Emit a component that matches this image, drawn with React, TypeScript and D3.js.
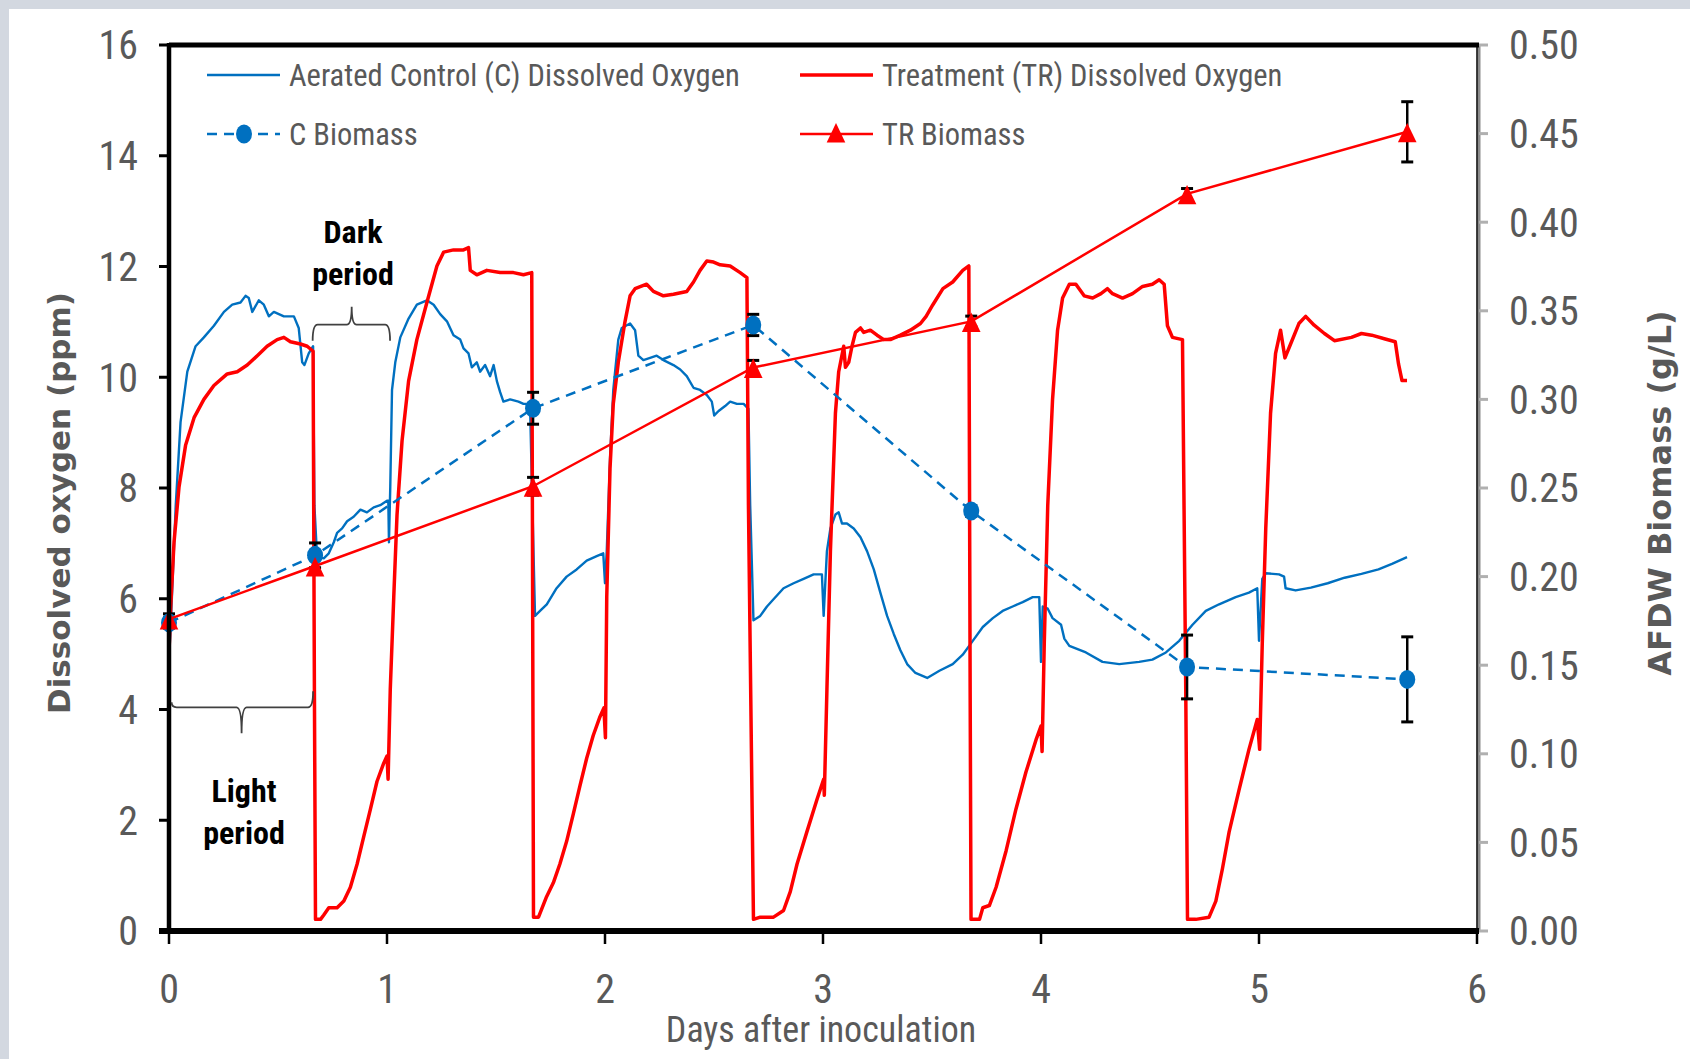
import React from "react";
import * as d3 from "d3";

const W = 1690;
const H = 1059;
const LEFT = 169;
const RIGHT = 1477;
const TOP = 45;
const BOTTOM = 931;

const BLUE = "#0070C0";
const RED = "#FF0000";
const GREY = "#595959";
const NARROW = "'Liberation Sans Narrow', 'Roboto Condensed', 'DejaVu Sans Condensed', 'Liberation Sans', sans-serif";

// aerated control dissolved oxygen, [day, ppm]
const controlDO: [number, number][] = [
  [0.0, 4.9], [0.008, 5.53], [0.031, 7.69], [0.053, 9.19], [0.084, 10.1], [0.122, 10.56], [0.16, 10.72],
  [0.206, 10.93], [0.252, 11.18], [0.29, 11.31], [0.328, 11.35], [0.351, 11.47], [0.366, 11.43], [0.382, 11.18],
  [0.412, 11.39], [0.435, 11.31], [0.458, 11.1], [0.481, 11.18], [0.527, 11.1], [0.573, 11.1], [0.595, 10.89],
  [0.611, 10.27], [0.621, 10.22], [0.641, 10.43], [0.661, 10.56], [0.667, 7.69], [0.679, 6.77], [0.71, 6.73],
  [0.733, 6.82], [0.756, 7.02], [0.771, 7.19], [0.794, 7.27], [0.817, 7.4], [0.847, 7.48], [0.878, 7.61],
  [0.908, 7.56], [0.939, 7.65], [0.969, 7.69], [1.0, 7.77], [1.006, 7.77], [1.009, 7.02], [1.015, 8.02],
  [1.023, 9.77], [1.038, 10.27], [1.061, 10.72], [1.099, 11.06], [1.137, 11.31], [1.183, 11.39], [1.214, 11.31],
  [1.244, 11.14], [1.275, 11.01], [1.305, 10.76], [1.336, 10.68], [1.351, 10.52], [1.374, 10.43], [1.389, 10.18],
  [1.412, 10.27], [1.427, 10.1], [1.45, 10.22], [1.473, 10.02], [1.489, 10.22], [1.504, 9.93], [1.519, 9.73],
  [1.534, 9.56], [1.565, 9.6], [1.603, 9.56], [1.626, 9.52], [1.656, 9.52], [1.667, 7.69], [1.679, 5.69],
  [1.702, 5.78], [1.733, 5.9], [1.778, 6.19], [1.824, 6.4], [1.87, 6.53], [1.916, 6.69], [1.962, 6.77],
  [1.992, 6.82], [2.0, 6.28], [2.008, 6.86], [2.023, 8.52], [2.038, 9.77], [2.061, 10.68], [2.077, 10.89],
  [2.115, 10.97], [2.138, 10.85], [2.153, 10.39], [2.176, 10.31], [2.207, 10.35], [2.237, 10.39], [2.268, 10.31],
  [2.314, 10.22], [2.345, 10.14], [2.375, 10.02], [2.406, 9.81], [2.436, 9.77], [2.467, 9.68], [2.49, 9.56],
  [2.501, 9.31], [2.521, 9.39], [2.551, 9.48], [2.574, 9.56], [2.605, 9.52], [2.636, 9.52], [2.658, 9.43],
  [2.666, 7.69], [2.681, 5.61], [2.712, 5.69], [2.743, 5.86], [2.773, 5.99], [2.819, 6.19], [2.865, 6.28],
  [2.911, 6.36], [2.957, 6.44], [2.995, 6.44], [3.003, 5.69], [3.018, 6.86], [3.034, 7.27], [3.057, 7.52],
  [3.072, 7.56], [3.087, 7.36], [3.11, 7.36], [3.141, 7.27], [3.172, 7.11], [3.202, 6.86], [3.233, 6.53],
  [3.263, 6.11], [3.294, 5.69], [3.325, 5.36], [3.355, 5.07], [3.386, 4.82], [3.424, 4.66], [3.478, 4.57],
  [3.534, 4.7], [3.595, 4.82], [3.641, 4.99], [3.687, 5.24], [3.733, 5.49], [3.779, 5.65], [3.824, 5.78],
  [3.87, 5.86], [3.916, 5.94], [3.962, 6.03], [3.992, 6.03], [4.0, 4.86], [4.008, 5.86], [4.031, 5.82],
  [4.053, 5.65], [4.092, 5.53], [4.107, 5.28], [4.13, 5.15], [4.206, 5.03], [4.282, 4.86], [4.359, 4.82],
  [4.45, 4.86], [4.511, 4.9], [4.573, 5.03], [4.634, 5.24], [4.695, 5.53], [4.756, 5.78], [4.817, 5.9],
  [4.893, 6.03], [4.954, 6.11], [4.992, 6.19], [5.0, 5.24], [5.015, 6.36], [5.031, 6.46], [5.092, 6.44],
  [5.115, 6.4], [5.122, 6.19], [5.168, 6.15], [5.238, 6.2], [5.315, 6.28], [5.393, 6.38], [5.47, 6.45],
  [5.548, 6.53], [5.61, 6.63], [5.679, 6.75],
];

// treatment dissolved oxygen, [day, ppm]
const treatmentDO: [number, number][] = [
  [0.0, 5.03], [0.008, 5.86], [0.023, 7.02], [0.046, 8.02], [0.076, 8.77], [0.115, 9.27], [0.16, 9.6],
  [0.206, 9.85], [0.267, 10.06], [0.313, 10.1], [0.359, 10.22], [0.405, 10.39], [0.45, 10.56], [0.496, 10.68],
  [0.527, 10.72], [0.557, 10.64], [0.603, 10.6], [0.634, 10.56], [0.661, 10.47], [0.667, 4.36], [0.672, 0.21],
  [0.695, 0.21], [0.71, 0.29], [0.733, 0.42], [0.771, 0.42], [0.802, 0.54], [0.832, 0.79], [0.863, 1.21],
  [0.893, 1.7], [0.924, 2.2], [0.954, 2.7], [0.985, 3.03], [1.0, 3.16], [1.005, 2.74], [1.015, 4.36],
  [1.031, 6.03], [1.046, 7.52], [1.069, 8.85], [1.099, 9.93], [1.137, 10.68], [1.183, 11.35], [1.229, 12.01],
  [1.26, 12.26], [1.305, 12.3], [1.351, 12.3], [1.374, 12.34], [1.382, 11.93], [1.412, 11.85], [1.458, 11.93],
  [1.519, 11.89], [1.58, 11.89], [1.626, 11.85], [1.664, 11.89], [1.672, 0.25], [1.695, 0.25], [1.732, 0.62],
  [1.763, 0.87], [1.793, 1.21], [1.824, 1.62], [1.855, 2.12], [1.885, 2.62], [1.916, 3.12], [1.946, 3.53],
  [1.977, 3.87], [1.995, 4.03], [2.002, 3.49], [2.008, 6.03], [2.023, 8.35], [2.038, 9.52], [2.061, 10.27],
  [2.092, 11.01], [2.115, 11.47], [2.138, 11.6], [2.191, 11.68], [2.222, 11.55], [2.268, 11.47], [2.314, 11.5],
  [2.375, 11.55], [2.406, 11.72], [2.436, 11.93], [2.467, 12.1], [2.498, 12.08], [2.528, 12.03], [2.574, 12.01],
  [2.62, 11.89], [2.651, 11.8], [2.658, 7.69], [2.681, 0.21], [2.712, 0.25], [2.773, 0.25], [2.819, 0.37],
  [2.85, 0.71], [2.881, 1.21], [2.926, 1.79], [2.972, 2.37], [3.003, 2.74], [3.006, 2.45], [3.018, 4.36],
  [3.034, 6.86], [3.057, 9.35], [3.072, 10.1], [3.095, 10.56], [3.103, 10.18], [3.118, 10.27], [3.133, 10.56],
  [3.149, 10.81], [3.172, 10.89], [3.187, 10.81], [3.217, 10.85], [3.248, 10.76], [3.279, 10.68], [3.309, 10.68],
  [3.355, 10.76], [3.401, 10.85], [3.447, 10.97], [3.473, 11.1], [3.504, 11.31], [3.55, 11.6], [3.595, 11.72],
  [3.641, 11.93], [3.669, 12.01], [3.675, 4.36], [3.679, 0.21], [3.718, 0.21], [3.733, 0.42], [3.763, 0.46],
  [3.794, 0.79], [3.84, 1.45], [3.885, 2.2], [3.931, 2.87], [3.977, 3.45], [4.0, 3.7], [4.005, 3.24],
  [4.015, 5.2], [4.031, 7.69], [4.053, 9.6], [4.076, 10.85], [4.099, 11.43], [4.13, 11.68], [4.16, 11.68],
  [4.198, 11.47], [4.237, 11.43], [4.275, 11.51], [4.305, 11.6], [4.328, 11.51], [4.374, 11.43], [4.42, 11.51],
  [4.466, 11.64], [4.511, 11.68], [4.542, 11.76], [4.565, 11.68], [4.58, 10.93], [4.603, 10.72], [4.649, 10.68],
  [4.664, 4.36], [4.672, 0.21], [4.71, 0.21], [4.771, 0.25], [4.802, 0.54], [4.832, 1.12], [4.863, 1.79],
  [4.908, 2.54], [4.954, 3.28], [4.992, 3.82], [5.003, 3.28], [5.015, 5.2], [5.031, 7.27], [5.053, 9.35],
  [5.076, 10.43], [5.099, 10.85], [5.119, 10.35], [5.145, 10.6], [5.183, 10.97], [5.214, 11.1], [5.253, 10.94],
  [5.3, 10.79], [5.346, 10.66], [5.424, 10.72], [5.47, 10.79], [5.517, 10.76], [5.579, 10.69], [5.625, 10.64],
  [5.64, 10.24], [5.656, 9.94], [5.679, 9.94],
];

// biomass sampling (AFDW, g/L)
const biomassDays = [0, 0.67, 1.67, 2.68, 3.68, 4.67, 5.68];
const cBiomass = [0.174, 0.212, 0.295, 0.342, 0.237, 0.149, 0.142];
const cBiomassErr = [0.003, 0.007, 0.009, 0.006, 0.003, 0.018, 0.024];
const trBiomass = [0.176, 0.206, 0.251, 0.318, 0.344, 0.416, 0.451];
const trBiomassErr = [0.003, 0.004, 0.005, 0.004, 0.003, 0.003, 0.017];

const dayTicks = [0, 1, 2, 3, 4, 5, 6];
const doTicks = [0, 2, 4, 6, 8, 10, 12, 14, 16];
const biomassTicks = [0, 0.05, 0.1, 0.15, 0.2, 0.25, 0.3, 0.35, 0.4, 0.45, 0.5];

// period brackets: [start day, end day, ppm level, notch day]
const darkBracket = [0.659, 1.014, 10.95, 0.838];
const lightBracket = [0.012, 0.661, 4.04, 0.333];

const x = d3.scaleLinear().domain([0, 6]).range([LEFT, RIGHT]);
const yDO = d3.scaleLinear().domain([0, 16]).range([BOTTOM, TOP]);
const yBio = d3.scaleLinear().domain([0, 0.5]).range([BOTTOM, TOP]);

const doLine = d3.line<[number, number]>().x((d) => x(d[0])).y((d) => yDO(d[1]));
const bioLine = d3.line<number>().x((_, i) => x(biomassDays[i])).y((d) => yBio(d));
const triangle = d3.symbol(d3.symbolTriangle, 150)()!;
const fmt2 = d3.format(".2f");

// curly bracket, dir = 1 opens downward (ends point down), -1 opens upward
const bracket = (b: number[], dir: number, endL: number, endR: number, notch: number) => {
  const x0 = x(b[0]);
  const x1 = x(b[1]);
  const xc = x(b[3]);
  const y0 = yDO(b[2]);
  const p = d3.path();
  p.moveTo(x0, y0 + dir * endL);
  p.quadraticCurveTo(x0, y0, x0 + 5, y0);
  p.lineTo(xc - 5, y0);
  p.quadraticCurveTo(xc, y0, xc, y0 - dir * notch);
  p.quadraticCurveTo(xc, y0, xc + 5, y0);
  p.lineTo(x1 - 5, y0);
  p.quadraticCurveTo(x1, y0, x1, y0 + dir * endR);
  return p.toString();
};

const ErrorBars = ({ vals, errs }: { vals: number[]; errs: number[] }) => (
  <g stroke="#000" strokeWidth={2.5}>
    {vals.map((v, i) => {
      const cx = x(biomassDays[i]);
      const y1 = yBio(v + errs[i]);
      const y2 = yBio(v - errs[i]);
      return (
        <g key={i}>
          <line x1={cx} x2={cx} y1={y1} y2={y2} />
          <line x1={cx - 6} x2={cx + 6} y1={y1} y2={y1} strokeWidth={3} />
          <line x1={cx - 6} x2={cx + 6} y1={y2} y2={y2} strokeWidth={3} />
        </g>
      );
    })}
  </g>
);

export default function App() {
  return (
    <svg width={W} height={H} style={{ position: "absolute", left: 0, top: 0 }}>
      <rect width={W} height={H} fill="#d3d8e0" />
      <rect x={9} y={9} width={W - 9} height={H - 9} fill="#fff" />

      {/* right axis (biomass) */}
      <line x1={RIGHT + 2} x2={RIGHT + 2} y1={TOP} y2={BOTTOM} stroke="#8c8c8c" strokeWidth={3} />
      {biomassTicks.map((t) => (
        <g key={t}>
          <line x1={RIGHT + 2} x2={RIGHT + 11} y1={yBio(t)} y2={yBio(t)} stroke="#b0b0b0" strokeWidth={3} />
          <text x={1509} y={yBio(t)} dy="0.36em" fontFamily={NARROW} fontSize={40} fill={GREY}>
            {fmt2(t)}
          </text>
        </g>
      ))}
      <line x1={RIGHT} x2={RIGHT} y1={TOP} y2={BOTTOM} stroke="#000" strokeWidth={1.5} />
      <line x1={LEFT} x2={RIGHT + 2} y1={TOP} y2={TOP} stroke="#000" strokeWidth={5} />

      {/* left axis */}
      {doTicks.map((t) => (
        <g key={t}>
          <line x1={LEFT - 10} x2={LEFT} y1={yDO(t)} y2={yDO(t)} stroke="#000" strokeWidth={3} />
          <text x={138} y={yDO(t)} dy="0.36em" textAnchor="end" fontFamily={NARROW} fontSize={40} fill={GREY}>
            {t}
          </text>
        </g>
      ))}

      {/* bottom axis */}
      {dayTicks.map((t) => (
        <g key={t}>
          <line x1={x(t)} x2={x(t)} y1={BOTTOM} y2={BOTTOM + 13} stroke="#000" strokeWidth={2.5} />
          <text x={x(t)} y={1003} textAnchor="middle" fontFamily={NARROW} fontSize={40} fill={GREY}>
            {t}
          </text>
        </g>
      ))}

      {/* dissolved oxygen traces */}
      <path d={doLine(controlDO)!} fill="none" stroke={BLUE} strokeWidth={2.4} strokeLinejoin="round" />
      <path d={doLine(treatmentDO)!} fill="none" stroke={RED} strokeWidth={3.5} strokeLinejoin="round" />

      {/* biomass */}
      <ErrorBars vals={cBiomass} errs={cBiomassErr} />
      <ErrorBars vals={trBiomass} errs={trBiomassErr} />
      <path d={bioLine(cBiomass)!} fill="none" stroke={BLUE} strokeWidth={2.5} strokeDasharray="10 7" />
      {cBiomass.map((v, i) => (
        <ellipse key={i} cx={x(biomassDays[i])} cy={yBio(v)} rx={8} ry={9.5} fill={BLUE} />
      ))}
      <path d={bioLine(trBiomass)!} fill="none" stroke={RED} strokeWidth={2.5} />
      {trBiomass.map((v, i) => (
        <path key={i} d={triangle} fill={RED}
          transform={`translate(${x(biomassDays[i])},${yBio(v) + 4}) scale(1,1.2)`} />
      ))}

      <line x1={LEFT} x2={LEFT} y1={TOP - 2} y2={BOTTOM + 2} stroke="#000" strokeWidth={4.5} />
      <line x1={LEFT - 10} x2={RIGHT + 2} y1={BOTTOM} y2={BOTTOM} stroke="#000" strokeWidth={6} />

      {/* period annotations */}
      <path d={bracket(darkBracket, 1, 16, 16, 18)} fill="none" stroke="#404040" strokeWidth={1.8} />
      <path d={bracket(lightBracket, -1, 5, 16, 26)} fill="none" stroke="#404040" strokeWidth={1.8} />
      <g fontFamily={NARROW} fontWeight="bold" fontSize={32} fill="#000" textAnchor="middle">
        <text x={353} y={243}>Dark</text>
        <text x={353} y={285}>period</text>
        <text x={244} y={802}>Light</text>
        <text x={244} y={844}>period</text>
      </g>

      {/* legend */}
      <g fontFamily={NARROW} fontSize={30.5} fill={GREY}>
        <line x1={207} x2={280} y1={75} y2={75} stroke={BLUE} strokeWidth={2.5} />
        <text x={289} y={86}>Aerated Control (C) Dissolved Oxygen</text>
        <line x1={800} x2={873} y1={75} y2={75} stroke={RED} strokeWidth={3.5} />
        <text x={882} y={86}>Treatment (TR) Dissolved Oxygen</text>
        <line x1={207} x2={280} y1={134} y2={134} stroke={BLUE} strokeWidth={2.5} strokeDasharray="10 7" />
        <ellipse cx={244} cy={134} rx={8} ry={9.5} fill={BLUE} />
        <text x={289} y={145}>C Biomass</text>
        <line x1={800} x2={873} y1={134} y2={134} stroke={RED} strokeWidth={2.5} />
        <path d={triangle} fill={RED} transform="translate(836,136) scale(1,1.2)" />
        <text x={882} y={145}>TR Biomass</text>
      </g>

      {/* axis titles */}
      <text transform="translate(59,503) rotate(-90)" textAnchor="middle" dominantBaseline="central"
        fontFamily="'DejaVu Sans', Verdana, sans-serif" fontWeight="bold" fontSize={31} fill={GREY}>
        Dissolved oxygen (ppm)
      </text>
      <text transform="translate(1660,493) rotate(-90)" textAnchor="middle" dominantBaseline="central"
        fontFamily="'DejaVu Sans', Verdana, sans-serif" fontWeight="bold" fontSize={32} fill={GREY}>
        AFDW Biomass (g/L)
      </text>
      <text x={821} y={1042} textAnchor="middle" fontFamily={NARROW} fontSize={36} fill={GREY}>
        Days after inoculation
      </text>
    </svg>
  );
}
